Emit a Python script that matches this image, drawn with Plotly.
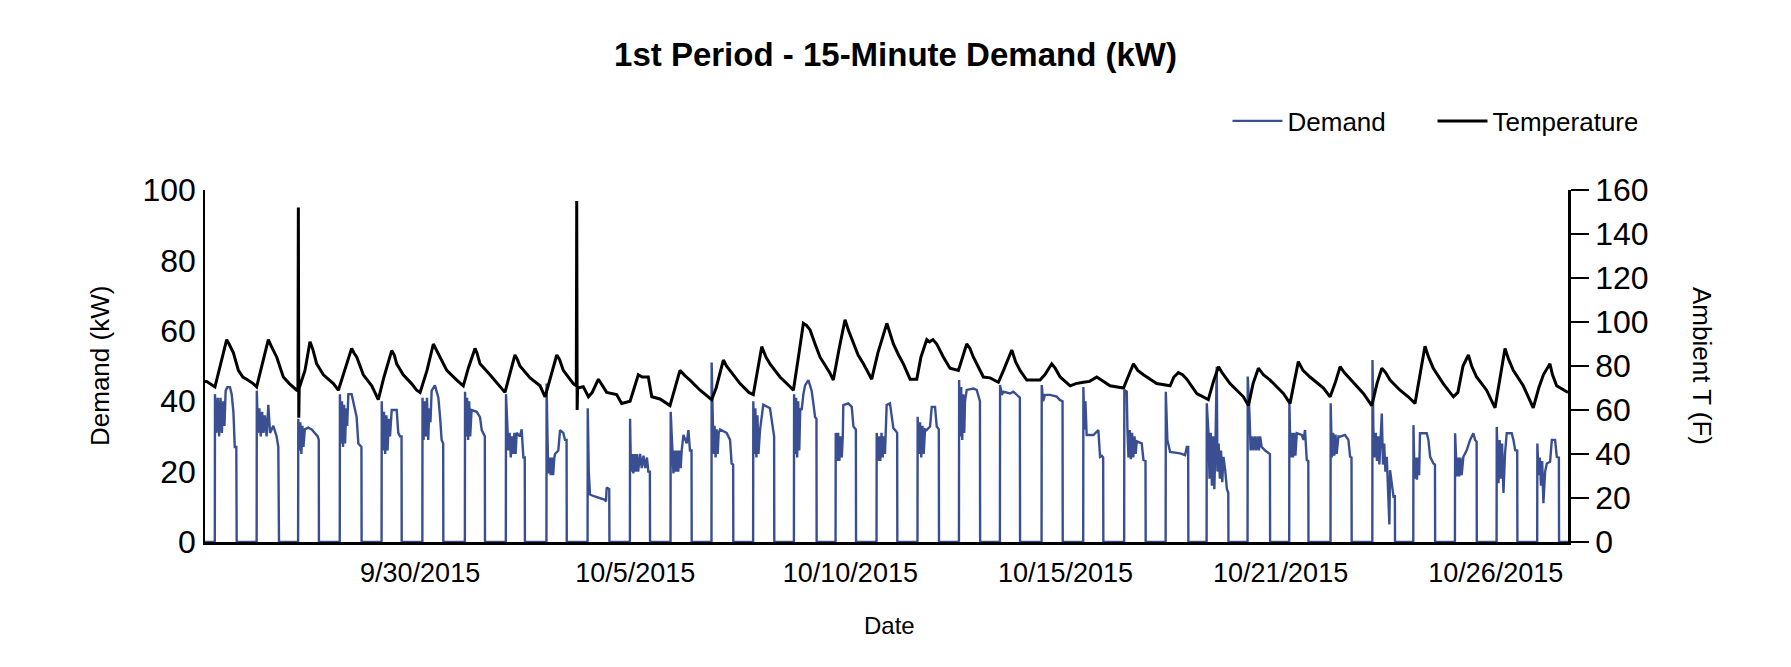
import pandas as pd
import plotly.graph_objects as go

# ---------------- data ----------------
START = "2015-09-25 00:00"
SAMPLE_MINUTES = 15
tick_point_index = [500, 1000, 1500, 2000, 2500, 3000]

# Demand (kW): for each day, hour-of-day breakpoints and the value there
demand_hr = [
    [0, 5.7, 5.8, 6.6, 7.4, 8.2, 9.0, 9.8, 10.6, 11.3, 12.0, 13.0, 14.5, 15.5, 16.5, 17.3, 18.2, 18.4],
    [6.0, 6.1, 6.8, 7.6, 8.4, 9.2, 10.0, 10.8, 11.8, 12.8, 13.8, 15.7, 17.6, 18.6, 19.0],
    [6.1, 6.2, 6.8, 7.4, 8.0, 8.6, 9.2, 10.0, 12.0, 14.0, 16.0, 17.5, 18.1, 18.2],
    [6.3, 6.4, 7.0, 7.6, 8.2, 8.8, 9.4, 10.0, 10.6, 11.3, 13.2, 15.1, 16.1, 17.1, 18.9, 19.0],
    [6.6, 6.7, 7.3, 8.0, 8.7, 9.4, 10.1, 10.8, 11.5, 12.5, 15.4, 16.3, 17.3, 18.2, 18.3],
    [6.3, 6.4, 7.0, 7.6, 8.3, 9.0, 9.7, 10.4, 11.0, 11.7, 13.6, 15.6, 16.6, 17.5, 18.4, 18.5],
    [7.0, 7.1, 7.7, 8.3, 8.9, 9.5, 10.1, 10.9, 13.9, 15.8, 16.8, 18.6, 18.7],
    [6.8, 6.9, 7.6, 8.3, 9.0, 9.7, 10.4, 11.1, 11.8, 12.5, 13.1, 15.0, 16.0, 17.0, 17.8, 17.9],
    [6.4, 6.5, 7.0, 7.5, 8.2, 8.9, 9.6, 10.3, 11.0, 11.4, 13.3, 14.3, 16.2, 17.2, 18.1, 18.2],
    [6.3, 6.4, 7.0, 7.7, 10.0, 13.0, 16.4, 17.0, 17.4, 18.9, 19.0],
    [6.9, 7.0, 7.5, 8.2, 8.9, 9.6, 10.3, 11.0, 11.7, 12.4, 12.8, 13.8, 14.8, 15.8, 16.8, 17.6, 18.5, 18.6],
    [6.5, 6.6, 7.4, 8.2, 8.9, 9.6, 10.3, 11.0, 11.7, 12.4, 13.0, 14.0, 15.9, 16.9, 17.8, 18.7, 18.8],
    [6.3, 6.4, 6.9, 7.5, 8.1, 8.7, 9.3, 9.9, 10.5, 11.3, 15.1, 17.1, 18.0, 18.9, 19.0],
    [6.5, 6.6, 7.2, 7.8, 8.4, 9.0, 9.6, 10.5, 11.4, 12.4, 16.3, 17.3, 18.3, 18.7, 18.8],
    [6.2, 6.3, 6.9, 7.5, 8.1, 8.7, 9.3, 9.9, 10.7, 11.7, 12.7, 14.6, 16.5, 17.5, 18.5, 19.3, 19.4],
    [6.4, 6.5, 7.2, 7.9, 8.6, 9.3, 10.0, 10.6, 10.9, 13.8, 15.8, 16.8, 18.2, 18.3],
    [6.2, 6.3, 7.0, 7.7, 8.4, 9.1, 9.8, 10.5, 11.1, 12.1, 14.0, 15.0, 16.0, 17.0, 18.2, 18.3],
    [6.0, 6.1, 6.8, 7.5, 8.2, 8.9, 9.6, 10.4, 11.3, 13.3, 14.3, 16.2, 17.2, 18.4, 18.5],
    [6.1, 6.2, 6.8, 7.4, 8.0, 8.6, 9.2, 9.6, 10.6, 14.5, 16.4, 17.4, 18.3, 18.4],
    [5.9, 6.0, 7.0, 7.9, 11.8, 13.7, 15.7, 16.6, 17.5, 17.6],
    [6.1, 6.2, 7.0, 8.1, 11.0, 14.9, 16.9, 18.3, 18.4],
    [6.3, 6.4, 7.0, 7.6, 8.3, 12.2, 15.1, 16.1, 17.1, 17.9, 18.0],
    [6.1, 6.2, 7.6, 8.0, 8.6, 9.3, 10.0, 10.7, 11.4, 12.1, 12.8, 13.4, 16.3, 17.3, 18.5, 18.6],
    [6.2, 6.3, 7.2, 8.8, 14.6, 17.5, 18.5, 19.3, 19.4],
    [6.0, 6.1, 7.0, 7.7, 8.4, 9.1, 9.8, 10.5, 11.2, 11.9, 12.3, 13.0, 13.7, 14.4, 15.1, 15.8, 16.8, 17.8, 18.6, 18.7],
    [5.8, 5.9, 6.9, 7.6, 8.4, 9.2, 10.0, 10.8, 11.6, 12.4, 13.1, 14.0, 16.0, 17.9, 18.8, 18.9],
    [6.0, 6.1, 6.8, 7.5, 8.2, 8.9, 9.6, 10.4, 13.3, 14.3, 15.2, 16.2, 17.1, 17.2],
    [6.0, 6.1, 6.8, 7.5, 8.2, 8.9, 9.6, 10.6, 11.5, 14.4, 16.4, 17.4, 18.2, 18.3],
    [6.3, 6.4, 6.9, 7.6, 8.3, 9.0, 9.7, 10.4, 11.1, 11.8, 12.5, 13.2, 13.9, 14.7, 15.5, 16.2, 16.6, 17.3, 18.6, 19.4, 19.5],
    [6.1, 6.2, 6.8, 7.5, 8.2, 8.9, 9.5, 10.0, 13.9, 14.9, 15.9, 17.8, 18.7, 18.8],
    [6.3, 6.4, 7.4, 8.1, 8.8, 9.5, 10.2, 11.2, 13.2, 15.1, 17.0, 18.0, 18.9, 19.0],
    [6.5, 6.6, 7.6, 8.3, 9.0, 9.7, 10.5, 11.4, 12.4, 15.3, 16.3, 17.3, 18.5, 18.6],
    [6.1, 6.2, 6.9, 7.6, 8.3, 9.0, 9.7, 10.7, 11.7, 13.6, 14.6, 16.5, 17.5, 18.7, 18.8, 24.0],
]
demand_kw = [
    [0, 0, 42, 31, 41, 30, 41, 31, 40, 33, 43, 44, 44, 42, 37, 27, 27, 0],
    [0, 43, 31, 38, 30, 37, 31, 36, 30, 39, 31, 33, 30, 27, 0],
    [0, 35, 26, 34, 25, 33, 27, 32, 32.5, 32, 31, 30, 29, 0],
    [0, 42, 28, 40, 27, 39, 28, 38, 33, 42, 42, 38, 35.5, 28, 27, 0],
    [0, 40, 26, 37, 25, 36, 26, 35, 30, 37.5, 37.5, 31, 30, 30, 0],
    [0, 41, 29, 40, 30, 41, 29, 38, 34, 43, 44.5, 41, 35.5, 29, 28, 0],
    [0, 42.7, 30, 41, 29, 40, 30, 37.5, 37, 35.5, 31.8, 30, 0],
    [0, 42, 33, 26, 31, 24, 30, 25, 31, 25, 31, 30, 32, 24, 24, 0],
    [0, 45, 30, 19.5, 24, 19, 24, 19, 24, 25, 26, 31.8, 31, 29, 29, 0],
    [0, 38, 20, 13.5, 13, 12.5, 12, 11.5, 15.5, 15, 0],
    [0, 35, 20, 25, 19.5, 25, 20, 25, 20, 24, 25, 21, 24.5, 21, 24, 20, 20, 0],
    [0, 37, 27, 19.5, 26, 20, 26, 20, 26, 21, 26, 30.4, 28, 31.8, 26, 26, 0],
    [0, 51, 33, 25, 33, 24, 32, 25, 31, 32, 31, 29, 22.3, 22, 0],
    [0, 40, 25, 38, 24, 36, 25, 31.8, 36, 39, 38, 34.7, 31, 30, 0],
    [0, 42, 25, 41, 24, 40, 26, 38, 37.5, 42, 44.5, 46, 43, 39.4, 35.5, 35, 0],
    [0, 31, 23, 31, 23, 30, 24, 30, 38.9, 39.4, 38.4, 32.8, 32, 0],
    [0, 31, 23, 30, 23, 31, 24, 30, 25, 38.9, 39.4, 35.6, 32.3, 31.8, 31, 0],
    [0, 35.6, 25, 34, 24, 33, 25, 32, 31.8, 32.8, 38.4, 38.4, 32.8, 32, 0],
    [0, 46, 30, 44, 29, 42, 31, 40, 43.2, 43.6, 43.2, 41.3, 40, 0],
    [0, 44.6, 41.8, 42.7, 42.2, 42.7, 41.8, 41.3, 41, 0],
    [0, 44.6, 40, 41.8, 41.8, 41.3, 40.3, 40, 0],
    [0, 44, 32, 40, 30.4, 30.4, 31.8, 24.2, 24.5, 24, 0],
    [0, 43.2, 42.7, 32, 24, 31.8, 23.5, 31, 24, 30, 25, 28.6, 28, 23.3, 23, 0],
    [0, 42.7, 29, 25.6, 25.2, 24.7, 27, 27, 0],
    [0, 39.4, 31.8, 18, 31, 16, 30, 15, 29, 49.8, 20, 28, 18, 26, 17, 24.2, 20.4, 15, 14, 0],
    [0, 47, 36.5, 26, 30, 26, 30, 26, 30, 26, 30, 27, 26, 25.2, 25, 0],
    [0, 39.4, 24, 31, 24, 31, 24.5, 30.9, 30.4, 29, 31.8, 23.3, 23, 0],
    [0, 39.4, 24, 31, 24.5, 30.5, 25, 30, 29.9, 30.4, 29, 24.2, 24, 0],
    [0, 51.7, 32, 24, 31, 23, 30, 22, 29, 36.5, 22, 28, 20, 24.2, 14, 5, 20.4, 18, 12.9, 13, 0],
    [0, 33.2, 18, 24, 17.7, 24, 19, 30.9, 30.9, 29, 24.2, 22.3, 22, 0],
    [0, 30.9, 18.6, 24, 18.6, 24, 19, 24.2, 26.1, 29, 30.9, 29, 28.5, 0],
    [0, 32.7, 16.7, 29, 18, 28, 13.9, 25, 30.9, 30.9, 29, 26.1, 26, 0],
    [0, 28, 19, 24, 16, 23, 11, 20, 22.3, 22.8, 29, 29, 24.2, 24, 0, 0],
]

# Ambient temperature (F): hours since START and reading
temp_hour = [
    0, 1, 5.8, 9, 12.6, 14, 16.5, 19.4, 22, 24.2, 28, 30, 33, 36.8, 38.5, 41.7, 45.5, 49, 53.3,
    54.0, 54.25, 54.5, 54.75, 58.1, 61, 62.5, 64.9, 68.8, 74.6, 77.5, 81, 85.2, 86.5, 88.2, 92,
    96.9, 100.7, 104, 108.5, 110, 111.4, 115.2, 120, 123, 125, 129, 132.7, 134, 136.6, 140.5,
    146.3, 150.1, 153, 156.9, 158, 159.8, 165.6, 171.4, 174.3, 177, 180.1, 181.5, 183, 188.9,
    194.7, 197.6, 201, 204.4, 206, 208.2, 214, 215.75, 216.0, 216.25, 216.5, 219.8, 222.8, 225,
    228.6, 231, 233.4, 239.2, 242.1, 247, 251.8, 254, 257.6, 259.6, 264.4, 270.2, 276, 279,
    281.8, 287.7, 294.4, 297, 301.2, 303, 305.1, 310.9, 316, 318.6, 323.5, 326, 328.3, 334.1,
    340, 341.9, 345, 347.7, 349.5, 351.6, 354.5, 357.4, 363.2, 365.1, 368.5, 371.9, 374, 376.8,
    379.5, 382.6, 387.4, 391, 396.2, 398, 400, 403, 405.8, 409.7, 413.6, 416, 419.4, 421, 423,
    425.2, 429.1, 432.9, 437.8, 442.6, 444.5, 446.5, 452.3, 456.2, 461, 464, 468.8, 471, 473.6,
    477.5, 485.2, 488, 492, 494, 496.9, 502.7, 506, 510.4, 514, 518.2, 522, 525.9, 533.7, 539.5,
    542, 545.3, 553, 560.8, 563, 565.6, 568, 570.5, 576.3, 583, 586, 588.9, 591, 595.6, 603.4,
    606.3, 609, 612.1, 615, 618.9, 626.6, 630.5, 633, 635.3, 638, 642.1, 649.9, 653.8, 657,
    659.6, 662, 667.3, 673.1, 678, 681, 683.8, 686, 688.6, 694.4, 699.2, 703.1, 706, 708.9, 711,
    713.7, 719.5, 725.4, 728, 731, 734.1, 736, 738.9, 744.7, 749.6, 752, 755.4, 757.5, 760.2,
    766, 771.8, 775, 777.7, 781.5, 783, 785.4, 790, 792,
]
temp_f = [
    73, 73, 70.5, 80, 92, 90, 86, 78, 75, 74, 72, 70.5, 80, 92, 89, 84, 75, 72, 69,
    69, 152, 56.5, 70, 78, 91, 88, 81, 76, 72, 69, 78, 88, 86, 84, 76,
    71, 64.7, 75, 87, 85, 81, 76, 72, 69, 68, 78, 90, 88, 84, 78,
    73.6, 71, 79, 88, 86, 81, 76, 71, 68, 76, 85, 83, 80, 74.6,
    71, 66, 76, 85, 83, 78, 72, 71, 155, 60, 70, 70.6, 66, 68,
    74, 71, 68, 67, 63, 64, 76, 75, 75, 66, 65, 62, 78, 75.5,
    73.6, 69, 64.7, 70, 82.7, 80, 78, 72, 68, 67, 88.8, 84, 81, 75,
    70.6, 69, 85, 99.4, 98.5, 96.4, 90, 84, 76.7, 73.6, 88, 101, 96, 90,
    85, 81, 74, 86, 99.4, 95, 90, 85, 81, 74, 74, 84, 92, 91, 92,
    90, 84, 79, 78, 90, 88, 84, 75, 74.6, 72.6, 78, 87.3, 82, 78,
    73.6, 73.6, 76, 81, 79, 75, 71, 72, 72.6, 73, 75, 73, 71, 70, 81,
    78, 76, 72, 71, 75, 77, 76, 74, 67.5, 64.7, 73, 79.7, 77, 72, 66,
    62, 72, 79, 76, 73.6, 67.5, 63, 73, 82, 78, 75, 70, 66, 73,
    79.7, 77, 72.6, 67.5, 62, 72, 79, 77, 73.6, 69, 66, 63, 76, 89, 84,
    79, 72, 66, 68, 80, 85, 80, 75, 69, 61, 72, 88, 83, 78,
    71, 61, 70, 76, 81, 76, 71, 69, 68,
]

# ---------------- build figure ----------------
start = pd.Timestamp(START)
dem_x, dem_y = [], []
for day, (hrs, kws) in enumerate(zip(demand_hr, demand_kw)):
    for h, k in zip(hrs, kws):
        dem_x.append(start + pd.Timedelta(hours=day * 24 + h))
        dem_y.append(k)
temp_x = [start + pd.Timedelta(hours=h) for h in temp_hour]

tick_times = [start + pd.Timedelta(minutes=SAMPLE_MINUTES * i) for i in tick_point_index]
tick_text = [f"{t.month}/{t.day}/{t.year}" for t in tick_times]
n_days = len(demand_hr)

FONT = "Arial, 'Liberation Sans', Helvetica, sans-serif"

fig = go.Figure()
fig.add_trace(go.Scatter(x=dem_x, y=dem_y, mode="lines", name="Demand",
                         line=dict(color="#3a4f92", width=2.4), yaxis="y"))
fig.add_trace(go.Scatter(x=temp_x, y=temp_f, mode="lines", name="Temperature",
                         line=dict(color="black", width=3), yaxis="y2"))

W, H = 1791, 667
L, R, T, B = 205, 223, 190, 125
pw, ph = W - L - R, H - T - B

def px_x(x):
    return (x - L) / pw

def px_y(y):
    return (H - B - y) / ph

fig.update_layout(
    width=W, height=H,
    margin=dict(l=L, r=R, t=T, b=B, autoexpand=False),
    paper_bgcolor="white", plot_bgcolor="white",
    font=dict(family=FONT, color="black"),
    title=dict(text="<b>1st Period - 15-Minute Demand (kW)</b>", x=0.5, xanchor="center",
               y=1 - 54 / H, yanchor="middle", font=dict(size=33, color="black")),
    showlegend=True,
    legend=dict(orientation="h", x=px_x(1227.5), xanchor="left", y=px_y(121), yanchor="middle",
                font=dict(size=26, color="black"), bgcolor="rgba(0,0,0,0)",
                itemwidth=50, entrywidth=140, entrywidthmode="pixels", tracegroupgap=0),
    xaxis=dict(type="date", range=[start, start + pd.Timedelta(days=n_days)],
               tickmode="array", tickvals=tick_times, ticktext=tick_text,
               ticks="", showgrid=False, zeroline=False,
               showline=True, linecolor="black", linewidth=2.5,
               tickfont=dict(size=27, color="black"), ticklabelstandoff=5),
    yaxis=dict(range=[0, 100], tickmode="linear", tick0=0, dtick=20,
               ticks="", showgrid=False, zeroline=False,
               showline=True, linecolor="black", linewidth=1.5,
               tickfont=dict(size=32, color="black"), ticklabelstandoff=1),
    yaxis2=dict(range=[0, 160], tickmode="linear", tick0=0, dtick=20,
                overlaying="y", side="right", anchor="x",
                ticks="outside", ticklen=18, tickwidth=2, tickcolor="black",
                showgrid=False, zeroline=False,
                showline=True, linecolor="black", linewidth=2.5,
                tickfont=dict(size=32, color="black")),
    annotations=[
        dict(text="Demand (kW)", xref="paper", yref="paper", x=px_x(100), y=0.5,
             textangle=-90, showarrow=False, font=dict(size=26, color="black"),
             xanchor="center", yanchor="middle"),
        dict(text="Ambient T (F)", xref="paper", yref="paper", x=px_x(1702), y=0.5,
             textangle=90, showarrow=False, font=dict(size=26, color="black"),
             xanchor="center", yanchor="middle"),
        dict(text="Date", xref="paper", yref="paper", x=px_x(889), y=px_y(625),
             showarrow=False, font=dict(size=24, color="black"),
             xanchor="center", yanchor="middle"),
    ],
)

fig.write_html("out.html", config={"displayModeBar": False},
               post_script="document.body.style.margin='0px';")
